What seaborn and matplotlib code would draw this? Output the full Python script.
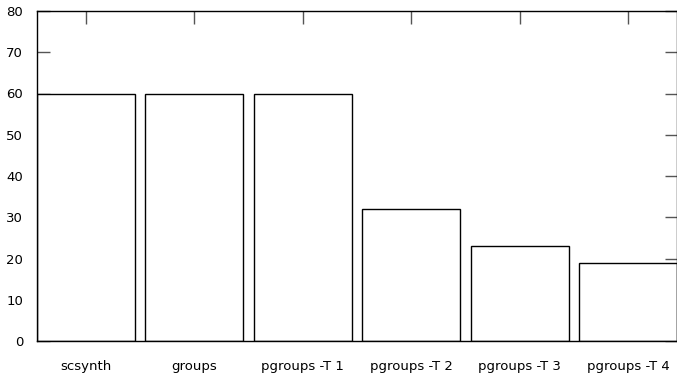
import matplotlib
matplotlib.use("Agg")
import matplotlib.pyplot as plt
import seaborn as sns
import pandas as pd

# data
categories = ["scsynth", "groups", "pgroups -T 1", "pgroups -T 2", "pgroups -T 3", "pgroups -T 4"]
values = [60, 60, 60, 32, 23, 19]
y_ticks = [0, 10, 20, 30, 40, 50, 60, 70, 80]

sns.set_style("ticks")
plt.rcParams['font.family'] = ['DejaVu Sans']

df = pd.DataFrame({'name': categories, 'value': values})

fig = plt.figure(figsize=(6.77, 3.75), dpi=100)
ax = fig.add_axes([37 / 677, 34 / 375, 640 / 677, 330 / 375])

bar_w = 0.904
sns.barplot(data=df, x='name', y='value', ax=ax, width=bar_w,
            color='white', edgecolor='black', linewidth=1.0, saturation=1)

# bars touch both sides of the frame, like gnuplot's boxes
ax.set_xlim(-bar_w / 2, len(categories) - 1 + bar_w / 2)
ax.set_ylim(0, 80)
ax.set_yticks(y_ticks)
ax.set_xlabel('')
ax.set_ylabel('')

for side in ['left', 'right', 'top', 'bottom']:
    ax.spines[side].set_visible(True)
    ax.spines[side].set_color('black')
    ax.spines[side].set_linewidth(1.0)

ax.tick_params(axis='both', direction='in', length=9, width=1.0, color='#555555',
               labelsize=9.5, top=True, right=True, labelcolor='black')
ax.tick_params(axis='x', pad=13.5)
ax.tick_params(axis='y', pad=10)

fig.savefig('out.png', dpi=100)
